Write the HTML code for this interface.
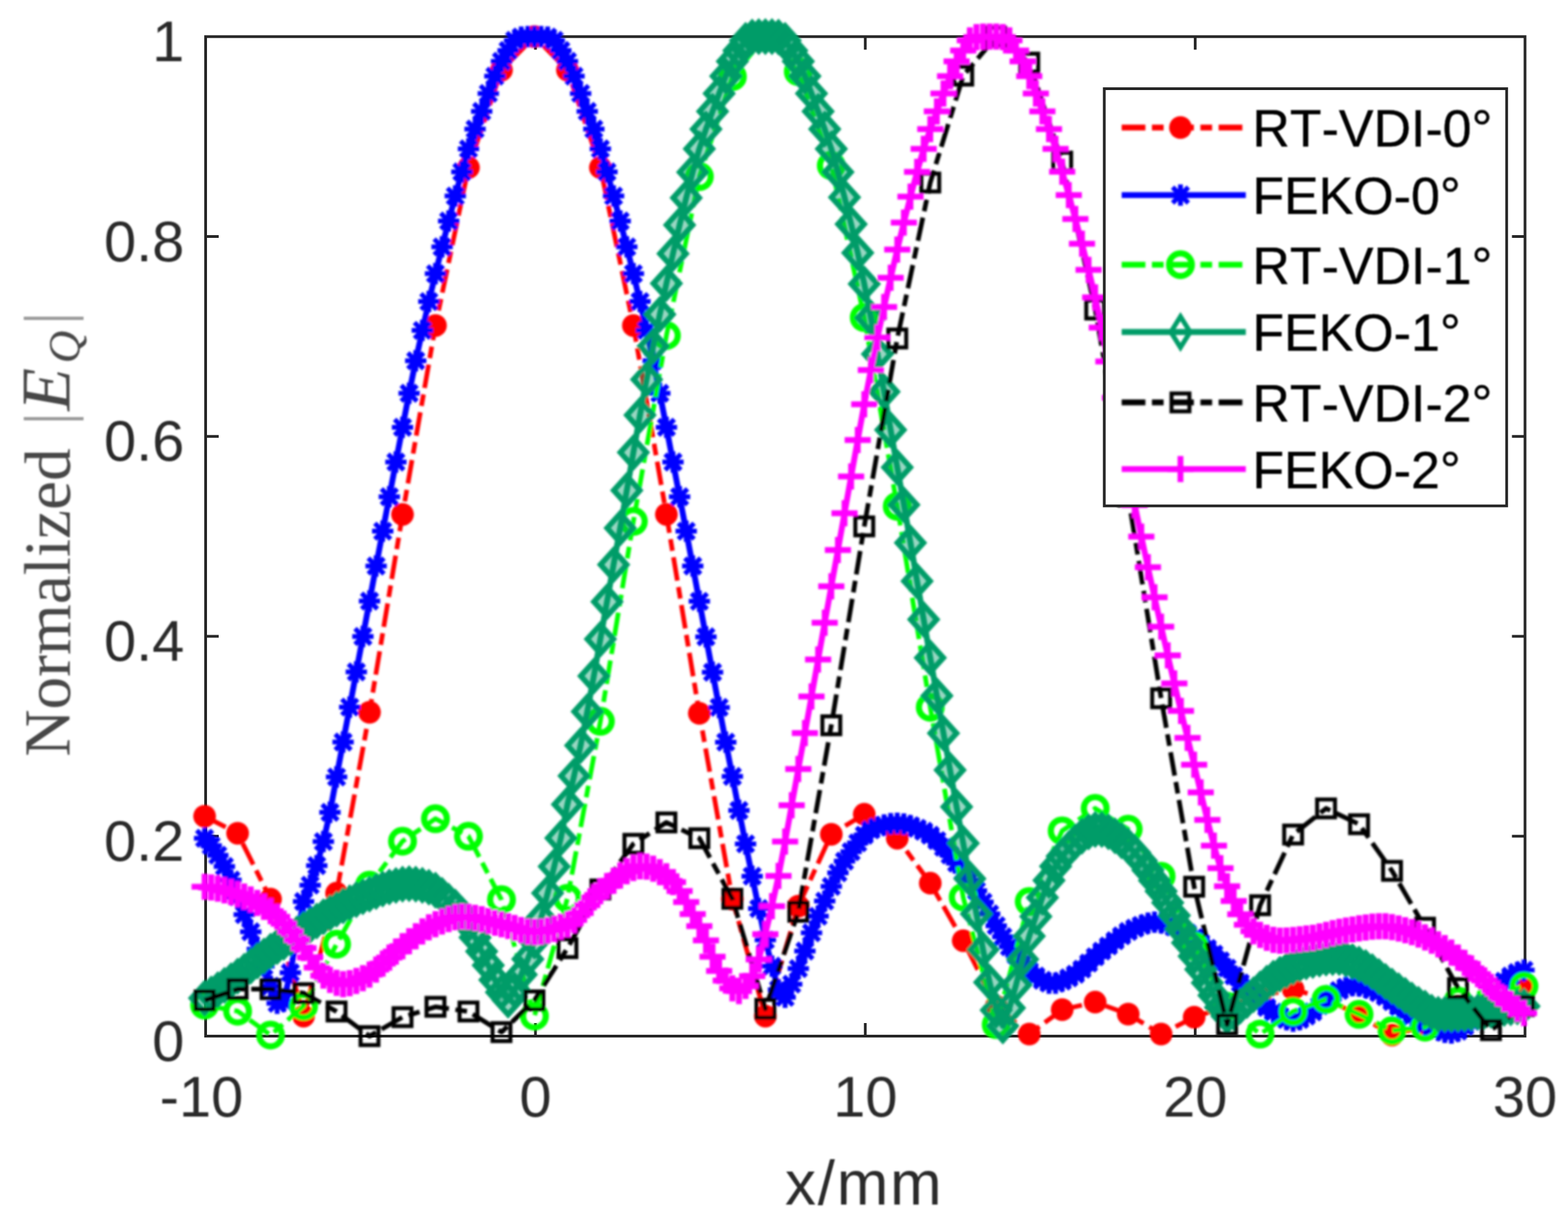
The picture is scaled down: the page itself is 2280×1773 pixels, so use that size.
<!DOCTYPE html>
<html lang="en"><head><meta charset="utf-8"><title>Normalized |EQ| versus x/mm</title>
<style>html,body{margin:0;padding:0;background:#fff}body{width:2280px;height:1773px;overflow:hidden}svg{display:block}text{font-family:"Liberation Sans",sans-serif;font-kerning:none}.ser{font-family:"Liberation Serif",serif}</style></head><body>
<svg width="2280" height="1773" viewBox="0 0 2280 1773" role="img" aria-label="Normalized |E_Q| versus x/mm for RT-VDI and FEKO at 0, 1 and 2 degrees">
<defs>
<filter id="soft" filterUnits="userSpaceOnUse" x="0" y="0" width="2280" height="1773"><feGaussianBlur stdDeviation="1.5"/></filter>
<filter id="softt" filterUnits="userSpaceOnUse" x="0" y="0" width="2280" height="1773"><feGaussianBlur stdDeviation="0.9"/></filter>
<marker id="mRed" markerUnits="userSpaceOnUse" markerWidth="80" markerHeight="80" refX="0" refY="0" viewBox="-40 -40 80 80" orient="0" overflow="visible"><circle r="16.5" fill="#ff0000"/></marker>
<marker id="mBlue" markerUnits="userSpaceOnUse" markerWidth="80" markerHeight="80" refX="0" refY="0" viewBox="-40 -40 80 80" orient="0" overflow="visible"><path d="M0,-15.5 V15.5 M-15.5,0 H15.5 M-11.5,-11.5 L11.5,11.5 M-11.5,11.5 L11.5,-11.5" stroke="#0000ff" stroke-width="7" fill="none"/></marker>
<marker id="mGreen" markerUnits="userSpaceOnUse" markerWidth="80" markerHeight="80" refX="0" refY="0" viewBox="-40 -40 80 80" orient="0" overflow="visible"><circle r="16.5" fill="none" stroke="#00ff00" stroke-width="9"/></marker>
<marker id="mTeal" markerUnits="userSpaceOnUse" markerWidth="80" markerHeight="80" refX="0" refY="0" viewBox="-40 -40 80 80" orient="0" overflow="visible"><path d="M0,-21 L19,0 L0,21 L-19,0 Z" fill="#069c68" fill-opacity="0.4" stroke="#069c68" stroke-width="8" stroke-linejoin="miter"/></marker>
<marker id="mTealL" markerUnits="userSpaceOnUse" markerWidth="80" markerHeight="80" refX="0" refY="0" viewBox="-40 -40 80 80" orient="0" overflow="visible"><path d="M0,-22.5 L14,0 L0,22.5 L-14,0 Z" fill="none" stroke="#069c68" stroke-width="7" stroke-linejoin="miter"/></marker>
<marker id="mBlack" markerUnits="userSpaceOnUse" markerWidth="80" markerHeight="80" refX="0" refY="0" viewBox="-40 -40 80 80" orient="0" overflow="visible"><rect x="-13" y="-13" width="26" height="26" fill="none" stroke="#000000" stroke-width="5.8"/></marker>
<marker id="mMag" markerUnits="userSpaceOnUse" markerWidth="80" markerHeight="80" refX="0" refY="0" viewBox="-40 -40 80 80" orient="0" overflow="visible"><path d="M0,-19 V19 M-19,0 H19" stroke="#ff00ff" stroke-width="8.5" fill="none"/></marker>
</defs>
<rect width="2280" height="1773" fill="#fff"/>
<g stroke="#262626" stroke-width="4" fill="none" stroke-linecap="butt">
<rect x="299.0" y="53.3" width="1918.5" height="1453.7"/>
<path d="M778.6,1507.0 v-19 M778.6,53.3 v19 M1258.2,1507.0 v-19 M1258.2,53.3 v19 M1737.9,1507.0 v-19 M1737.9,53.3 v19 M299.0,1216.3 h19 M2217.5,1216.3 h-19 M299.0,925.5 h19 M2217.5,925.5 h-19 M299.0,634.8 h19 M2217.5,634.8 h-19 M299.0,344.0 h19 M2217.5,344.0 h-19"/>
</g>
<g id="series" filter="url(#soft)" transform="translate(-1.5,0)">
<polyline points="299.0,1187.2 347.0,1211.9 394.9,1307.8 442.9,1477.9 490.9,1299.1 538.8,1036.0 586.8,748.2 634.7,473.4 682.7,243.7 730.7,101.9 778.6,53.3 826.6,101.9 874.5,243.7 922.5,473.4 970.5,748.2 1018.4,1037.5 1066.4,1307.8 1114.4,1477.9 1162.3,1318.0 1210.3,1213.4 1258.2,1184.3 1306.2,1219.2 1354.2,1284.6 1402.1,1368.2 1450.1,1463.4 1498.1,1504.1 1546.0,1468.5 1594.0,1457.6 1642.0,1475.0 1689.9,1504.1 1737.9,1479.4 1785.8,1463.4 1833.8,1448.9 1881.8,1438.7 1929.7,1453.2 1977.7,1476.5 2025.6,1505.5 2073.6,1492.5 2121.6,1463.4 2169.5,1456.1 2217.5,1438.7" fill="none" stroke="#ff0000" stroke-width="6.8" stroke-linejoin="round" stroke-dasharray="34.5,9.5,17,9.5"/>
<polyline points="299.0,1187.2 347.0,1211.9 394.9,1307.8 442.9,1477.9 490.9,1299.1 538.8,1036.0 586.8,748.2 634.7,473.4 682.7,243.7 730.7,101.9 778.6,53.3 826.6,101.9 874.5,243.7 922.5,473.4 970.5,748.2 1018.4,1037.5 1066.4,1307.8 1114.4,1477.9 1162.3,1318.0 1210.3,1213.4 1258.2,1184.3 1306.2,1219.2 1354.2,1284.6 1402.1,1368.2 1450.1,1463.4 1498.1,1504.1 1546.0,1468.5 1594.0,1457.6 1642.0,1475.0 1689.9,1504.1 1737.9,1479.4 1785.8,1463.4 1833.8,1448.9 1881.8,1438.7 1929.7,1453.2 1977.7,1476.5 2025.6,1505.5 2073.6,1492.5 2121.6,1463.4 2169.5,1456.1 2217.5,1438.7" fill="none" stroke="none" marker-start="url(#mRed)" marker-mid="url(#mRed)" marker-end="url(#mRed)"/>
<polyline points="299.0,1219.2 308.6,1230.0 318.2,1243.9 327.8,1260.2 337.4,1280.0 347.0,1304.4 356.6,1330.3 366.1,1355.3 375.7,1380.5 385.3,1405.2 394.9,1434.4 404.5,1459.3 414.1,1456.3 423.7,1414.8 433.3,1361.8 442.9,1311.3 452.5,1287.4 462.1,1259.0 471.7,1224.1 481.3,1181.5 490.9,1130.1 500.4,1079.2 510.0,1028.4 519.6,977.2 529.2,925.7 538.8,874.3 548.4,823.2 558.0,772.6 567.6,722.5 577.2,672.0 586.8,621.5 596.4,572.0 606.0,524.7 615.6,480.6 625.1,438.6 634.7,398.1 644.3,359.1 653.9,321.5 663.5,285.1 673.1,250.0 682.7,216.5 692.3,187.8 701.9,162.0 711.5,135.9 721.1,110.8 730.7,89.3 740.3,73.5 749.8,58.7 759.4,53.9 769.0,53.3 778.6,53.3 788.2,53.3 797.8,53.9 807.4,58.7 817.0,73.5 826.6,89.3 836.2,110.8 845.8,135.9 855.4,162.0 865.0,187.8 874.5,216.5 884.1,250.0 893.7,285.1 903.3,321.5 912.9,359.1 922.5,398.1 932.1,438.6 941.7,480.6 951.3,524.7 960.9,572.0 970.5,621.5 980.1,672.0 989.7,722.5 999.3,772.6 1008.8,823.3 1018.4,874.6 1028.0,926.2 1037.6,977.7 1047.2,1028.9 1056.8,1079.4 1066.4,1129.2 1076.0,1178.7 1085.6,1227.4 1095.2,1274.4 1104.8,1321.5 1114.4,1367.1 1124.0,1405.2 1133.5,1439.4 1143.1,1450.6 1152.7,1431.4 1162.3,1408.7 1171.9,1383.3 1181.5,1356.8 1191.1,1332.6 1200.7,1310.6 1210.3,1289.2 1219.9,1269.5 1229.5,1252.5 1239.1,1238.7 1248.7,1225.9 1258.2,1214.8 1267.8,1207.0 1277.4,1203.0 1287.0,1200.1 1296.6,1198.1 1306.2,1197.4 1315.8,1198.4 1325.4,1201.0 1335.0,1204.7 1344.6,1209.0 1354.2,1214.7 1363.8,1222.6 1373.4,1232.4 1383.0,1243.5 1392.5,1255.2 1402.1,1267.1 1411.7,1280.3 1421.3,1295.5 1430.9,1312.1 1440.5,1329.3 1450.1,1346.4 1459.7,1362.5 1469.3,1377.0 1478.9,1389.5 1488.5,1401.5 1498.1,1412.0 1507.7,1419.8 1517.2,1425.7 1526.8,1429.9 1536.4,1430.1 1546.0,1427.0 1555.6,1422.3 1565.2,1417.0 1574.8,1409.6 1584.4,1400.7 1594.0,1391.6 1603.6,1383.4 1613.2,1375.9 1622.8,1368.3 1632.4,1361.1 1642.0,1354.8 1651.5,1350.0 1661.1,1346.0 1670.7,1342.7 1680.3,1341.3 1689.9,1342.3 1699.5,1344.8 1709.1,1348.2 1718.7,1352.0 1728.3,1357.3 1737.9,1363.9 1747.5,1371.4 1757.1,1379.4 1766.7,1387.7 1776.2,1397.5 1785.8,1408.3 1795.4,1419.2 1805.0,1429.6 1814.6,1438.9 1824.2,1448.1 1833.8,1457.0 1843.4,1465.2 1853.0,1472.2 1862.6,1477.8 1872.2,1482.9 1881.8,1485.2 1891.4,1482.9 1900.9,1477.8 1910.5,1471.8 1920.1,1462.9 1929.7,1453.3 1939.3,1445.9 1948.9,1440.6 1958.5,1435.9 1968.1,1433.4 1977.7,1433.9 1987.3,1436.4 1996.9,1439.8 2006.5,1443.7 2016.1,1449.6 2025.6,1456.8 2035.2,1464.5 2044.8,1471.8 2054.4,1478.1 2064.0,1484.3 2073.6,1490.2 2083.2,1495.0 2092.8,1498.4 2102.4,1501.4 2112.0,1502.6 2121.6,1499.7 2131.2,1493.1 2140.8,1485.5 2150.4,1475.1 2159.9,1463.4 2169.5,1450.0 2179.1,1437.2 2188.7,1427.3 2198.3,1419.8 2207.9,1414.5 2217.5,1411.1" fill="none" stroke="#0000ff" stroke-width="8.6" stroke-linejoin="round"/>
<polyline points="299.0,1219.2 308.6,1230.0 318.2,1243.9 327.8,1260.2 337.4,1280.0 347.0,1304.4 356.6,1330.3 366.1,1355.3 375.7,1380.5 385.3,1405.2 394.9,1434.4 404.5,1459.3 414.1,1456.3 423.7,1414.8 433.3,1361.8 442.9,1311.3 452.5,1287.4 462.1,1259.0 471.7,1224.1 481.3,1181.5 490.9,1130.1 500.4,1079.2 510.0,1028.4 519.6,977.2 529.2,925.7 538.8,874.3 548.4,823.2 558.0,772.6 567.6,722.5 577.2,672.0 586.8,621.5 596.4,572.0 606.0,524.7 615.6,480.6 625.1,438.6 634.7,398.1 644.3,359.1 653.9,321.5 663.5,285.1 673.1,250.0 682.7,216.5 692.3,187.8 701.9,162.0 711.5,135.9 721.1,110.8 730.7,89.3 740.3,73.5 749.8,58.7 759.4,53.9 769.0,53.3 778.6,53.3 788.2,53.3 797.8,53.9 807.4,58.7 817.0,73.5 826.6,89.3 836.2,110.8 845.8,135.9 855.4,162.0 865.0,187.8 874.5,216.5 884.1,250.0 893.7,285.1 903.3,321.5 912.9,359.1 922.5,398.1 932.1,438.6 941.7,480.6 951.3,524.7 960.9,572.0 970.5,621.5 980.1,672.0 989.7,722.5 999.3,772.6 1008.8,823.3 1018.4,874.6 1028.0,926.2 1037.6,977.7 1047.2,1028.9 1056.8,1079.4 1066.4,1129.2 1076.0,1178.7 1085.6,1227.4 1095.2,1274.4 1104.8,1321.5 1114.4,1367.1 1124.0,1405.2 1133.5,1439.4 1143.1,1450.6 1152.7,1431.4 1162.3,1408.7 1171.9,1383.3 1181.5,1356.8 1191.1,1332.6 1200.7,1310.6 1210.3,1289.2 1219.9,1269.5 1229.5,1252.5 1239.1,1238.7 1248.7,1225.9 1258.2,1214.8 1267.8,1207.0 1277.4,1203.0 1287.0,1200.1 1296.6,1198.1 1306.2,1197.4 1315.8,1198.4 1325.4,1201.0 1335.0,1204.7 1344.6,1209.0 1354.2,1214.7 1363.8,1222.6 1373.4,1232.4 1383.0,1243.5 1392.5,1255.2 1402.1,1267.1 1411.7,1280.3 1421.3,1295.5 1430.9,1312.1 1440.5,1329.3 1450.1,1346.4 1459.7,1362.5 1469.3,1377.0 1478.9,1389.5 1488.5,1401.5 1498.1,1412.0 1507.7,1419.8 1517.2,1425.7 1526.8,1429.9 1536.4,1430.1 1546.0,1427.0 1555.6,1422.3 1565.2,1417.0 1574.8,1409.6 1584.4,1400.7 1594.0,1391.6 1603.6,1383.4 1613.2,1375.9 1622.8,1368.3 1632.4,1361.1 1642.0,1354.8 1651.5,1350.0 1661.1,1346.0 1670.7,1342.7 1680.3,1341.3 1689.9,1342.3 1699.5,1344.8 1709.1,1348.2 1718.7,1352.0 1728.3,1357.3 1737.9,1363.9 1747.5,1371.4 1757.1,1379.4 1766.7,1387.7 1776.2,1397.5 1785.8,1408.3 1795.4,1419.2 1805.0,1429.6 1814.6,1438.9 1824.2,1448.1 1833.8,1457.0 1843.4,1465.2 1853.0,1472.2 1862.6,1477.8 1872.2,1482.9 1881.8,1485.2 1891.4,1482.9 1900.9,1477.8 1910.5,1471.8 1920.1,1462.9 1929.7,1453.3 1939.3,1445.9 1948.9,1440.6 1958.5,1435.9 1968.1,1433.4 1977.7,1433.9 1987.3,1436.4 1996.9,1439.8 2006.5,1443.7 2016.1,1449.6 2025.6,1456.8 2035.2,1464.5 2044.8,1471.8 2054.4,1478.1 2064.0,1484.3 2073.6,1490.2 2083.2,1495.0 2092.8,1498.4 2102.4,1501.4 2112.0,1502.6 2121.6,1499.7 2131.2,1493.1 2140.8,1485.5 2150.4,1475.1 2159.9,1463.4 2169.5,1450.0 2179.1,1437.2 2188.7,1427.3 2198.3,1419.8 2207.9,1414.5 2217.5,1411.1" fill="none" stroke="none" marker-start="url(#mBlue)" marker-mid="url(#mBlue)" marker-end="url(#mBlue)"/>
<polyline points="299.0,1461.9 347.0,1470.7 394.9,1505.5 442.9,1463.4 490.9,1373.3 538.8,1287.5 586.8,1223.5 634.7,1190.8 682.7,1216.3 730.7,1308.6 778.6,1477.9 826.6,1306.4 874.5,1049.1 922.5,758.3 970.5,488.0 1018.4,256.8 1066.4,111.4 1114.4,53.3 1162.3,104.2 1210.3,240.8 1258.2,461.8 1306.2,736.5 1354.2,1028.7 1402.1,1304.9 1450.1,1490.3 1498.1,1311.3 1546.0,1208.4 1594.0,1175.8 1642.0,1206.1 1689.9,1274.4 1737.9,1376.2 1785.8,1463.4 1833.8,1504.1 1881.8,1471.2 1929.7,1453.5 1977.7,1475.3 2025.6,1499.0 2073.6,1493.9 2121.6,1456.1 2169.5,1448.9 2217.5,1434.3" fill="none" stroke="#00ff00" stroke-width="6.8" stroke-linejoin="round" stroke-dasharray="34.5,9.5,17,9.5"/>
<polyline points="299.0,1461.9 347.0,1470.7 394.9,1505.5 442.9,1463.4 490.9,1373.3 538.8,1287.5 586.8,1223.5 634.7,1190.8 682.7,1216.3 730.7,1308.6 778.6,1477.9 826.6,1306.4 874.5,1049.1 922.5,758.3 970.5,488.0 1018.4,256.8 1066.4,111.4 1114.4,53.3 1162.3,104.2 1210.3,240.8 1258.2,461.8 1306.2,736.5 1354.2,1028.7 1402.1,1304.9 1450.1,1490.3 1498.1,1311.3 1546.0,1208.4 1594.0,1175.8 1642.0,1206.1 1689.9,1274.4 1737.9,1376.2 1785.8,1463.4 1833.8,1504.1 1881.8,1471.2 1929.7,1453.5 1977.7,1475.3 2025.6,1499.0 2073.6,1493.9 2121.6,1456.1 2169.5,1448.9 2217.5,1434.3" fill="none" stroke="none" marker-start="url(#mGreen)" marker-mid="url(#mGreen)" marker-end="url(#mGreen)"/>
<polyline points="299.0,1451.8 308.6,1445.7 318.2,1439.5 327.8,1433.1 337.4,1426.5 347.0,1419.8 356.6,1412.7 366.1,1405.3 375.7,1397.8 385.3,1390.4 394.9,1383.4 404.5,1376.8 414.1,1370.5 423.7,1364.2 433.3,1358.1 442.9,1352.0 452.5,1345.9 462.1,1339.6 471.7,1333.5 481.3,1327.7 490.9,1322.4 500.4,1317.5 510.0,1312.9 519.6,1308.5 529.2,1304.4 538.8,1300.6 548.4,1296.8 558.0,1293.1 567.6,1290.1 577.2,1287.9 586.8,1286.0 596.4,1285.2 606.0,1286.0 615.6,1287.8 625.1,1290.4 634.7,1294.8 644.3,1302.1 653.9,1310.8 663.5,1319.3 673.1,1329.6 682.7,1344.5 692.3,1363.4 701.9,1383.7 711.5,1403.9 721.1,1425.2 730.7,1443.2 740.3,1454.7 749.8,1440.3 759.4,1417.5 769.0,1395.0 778.6,1368.9 788.2,1336.1 797.8,1299.1 807.4,1260.2 817.0,1218.9 826.6,1170.0 836.2,1128.6 845.8,1084.2 855.4,1035.0 865.0,983.2 874.5,929.6 884.1,875.3 893.7,821.3 903.3,768.0 912.9,713.3 922.5,658.1 932.1,603.8 941.7,551.9 951.3,503.6 960.9,457.3 970.5,412.3 980.1,368.9 989.7,327.3 999.3,287.8 1008.8,250.4 1018.4,216.4 1028.0,187.8 1037.6,162.0 1047.2,135.9 1056.8,110.8 1066.4,89.3 1076.0,73.5 1085.6,58.7 1095.2,53.9 1104.8,53.3 1114.4,53.3 1124.0,53.3 1133.5,53.9 1143.1,58.7 1152.7,73.5 1162.3,89.3 1171.9,110.8 1181.5,135.9 1191.1,162.0 1200.7,187.8 1210.3,216.5 1219.9,250.2 1229.5,286.9 1239.1,326.0 1248.7,367.8 1258.2,412.9 1267.8,462.3 1277.4,515.0 1287.0,569.8 1296.6,625.2 1306.2,679.8 1315.8,734.2 1325.4,789.5 1335.0,845.2 1344.6,901.0 1354.2,956.7 1363.8,1012.0 1373.4,1066.4 1383.0,1120.1 1392.5,1173.6 1402.1,1226.4 1411.7,1278.1 1421.3,1329.2 1430.9,1381.2 1440.5,1428.8 1450.1,1469.2 1459.7,1492.2 1469.3,1466.1 1478.9,1432.4 1488.5,1395.3 1498.1,1361.6 1507.7,1333.0 1517.2,1305.4 1526.8,1280.5 1536.4,1259.9 1546.0,1245.3 1555.6,1234.5 1565.2,1224.6 1574.8,1216.2 1584.4,1210.0 1594.0,1206.5 1603.6,1206.6 1613.2,1209.9 1622.8,1215.8 1632.4,1223.0 1642.0,1230.8 1651.5,1240.0 1661.1,1251.9 1670.7,1265.7 1680.3,1280.7 1689.9,1296.2 1699.5,1312.9 1709.1,1331.6 1718.7,1351.3 1728.3,1371.3 1737.9,1390.7 1747.5,1410.0 1757.1,1429.4 1766.7,1447.7 1776.2,1465.3 1785.8,1477.9 1795.4,1472.5 1805.0,1463.4 1814.6,1455.4 1824.2,1446.8 1833.8,1438.1 1843.4,1429.9 1853.0,1422.8 1862.6,1417.0 1872.2,1411.6 1881.8,1406.6 1891.4,1402.4 1900.9,1399.1 1910.5,1397.0 1920.1,1395.1 1929.7,1393.6 1939.3,1392.7 1948.9,1392.9 1958.5,1395.0 1968.1,1398.5 1977.7,1402.3 1987.3,1407.1 1996.9,1413.3 2006.5,1420.3 2016.1,1427.5 2025.6,1434.3 2035.2,1440.9 2044.8,1447.7 2054.4,1454.4 2064.0,1460.7 2073.6,1466.3 2083.2,1472.1 2092.8,1475.3 2102.4,1475.3 2112.0,1475.2 2121.6,1475.0 2131.2,1474.5 2140.8,1473.4 2150.4,1472.0 2159.9,1470.5 2169.5,1469.2 2179.1,1468.0 2188.7,1466.9 2198.3,1465.7 2207.9,1464.6 2217.5,1463.4" fill="none" stroke="#069c68" stroke-width="8.6" stroke-linejoin="round"/>
<polyline points="299.0,1451.8 308.6,1445.7 318.2,1439.5 327.8,1433.1 337.4,1426.5 347.0,1419.8 356.6,1412.7 366.1,1405.3 375.7,1397.8 385.3,1390.4 394.9,1383.4 404.5,1376.8 414.1,1370.5 423.7,1364.2 433.3,1358.1 442.9,1352.0 452.5,1345.9 462.1,1339.6 471.7,1333.5 481.3,1327.7 490.9,1322.4 500.4,1317.5 510.0,1312.9 519.6,1308.5 529.2,1304.4 538.8,1300.6 548.4,1296.8 558.0,1293.1 567.6,1290.1 577.2,1287.9 586.8,1286.0 596.4,1285.2 606.0,1286.0 615.6,1287.8 625.1,1290.4 634.7,1294.8 644.3,1302.1 653.9,1310.8 663.5,1319.3 673.1,1329.6 682.7,1344.5 692.3,1363.4 701.9,1383.7 711.5,1403.9 721.1,1425.2 730.7,1443.2 740.3,1454.7 749.8,1440.3 759.4,1417.5 769.0,1395.0 778.6,1368.9 788.2,1336.1 797.8,1299.1 807.4,1260.2 817.0,1218.9 826.6,1170.0 836.2,1128.6 845.8,1084.2 855.4,1035.0 865.0,983.2 874.5,929.6 884.1,875.3 893.7,821.3 903.3,768.0 912.9,713.3 922.5,658.1 932.1,603.8 941.7,551.9 951.3,503.6 960.9,457.3 970.5,412.3 980.1,368.9 989.7,327.3 999.3,287.8 1008.8,250.4 1018.4,216.4 1028.0,187.8 1037.6,162.0 1047.2,135.9 1056.8,110.8 1066.4,89.3 1076.0,73.5 1085.6,58.7 1095.2,53.9 1104.8,53.3 1114.4,53.3 1124.0,53.3 1133.5,53.9 1143.1,58.7 1152.7,73.5 1162.3,89.3 1171.9,110.8 1181.5,135.9 1191.1,162.0 1200.7,187.8 1210.3,216.5 1219.9,250.2 1229.5,286.9 1239.1,326.0 1248.7,367.8 1258.2,412.9 1267.8,462.3 1277.4,515.0 1287.0,569.8 1296.6,625.2 1306.2,679.8 1315.8,734.2 1325.4,789.5 1335.0,845.2 1344.6,901.0 1354.2,956.7 1363.8,1012.0 1373.4,1066.4 1383.0,1120.1 1392.5,1173.6 1402.1,1226.4 1411.7,1278.1 1421.3,1329.2 1430.9,1381.2 1440.5,1428.8 1450.1,1469.2 1459.7,1492.2 1469.3,1466.1 1478.9,1432.4 1488.5,1395.3 1498.1,1361.6 1507.7,1333.0 1517.2,1305.4 1526.8,1280.5 1536.4,1259.9 1546.0,1245.3 1555.6,1234.5 1565.2,1224.6 1574.8,1216.2 1584.4,1210.0 1594.0,1206.5 1603.6,1206.6 1613.2,1209.9 1622.8,1215.8 1632.4,1223.0 1642.0,1230.8 1651.5,1240.0 1661.1,1251.9 1670.7,1265.7 1680.3,1280.7 1689.9,1296.2 1699.5,1312.9 1709.1,1331.6 1718.7,1351.3 1728.3,1371.3 1737.9,1390.7 1747.5,1410.0 1757.1,1429.4 1766.7,1447.7 1776.2,1465.3 1785.8,1477.9 1795.4,1472.5 1805.0,1463.4 1814.6,1455.4 1824.2,1446.8 1833.8,1438.1 1843.4,1429.9 1853.0,1422.8 1862.6,1417.0 1872.2,1411.6 1881.8,1406.6 1891.4,1402.4 1900.9,1399.1 1910.5,1397.0 1920.1,1395.1 1929.7,1393.6 1939.3,1392.7 1948.9,1392.9 1958.5,1395.0 1968.1,1398.5 1977.7,1402.3 1987.3,1407.1 1996.9,1413.3 2006.5,1420.3 2016.1,1427.5 2025.6,1434.3 2035.2,1440.9 2044.8,1447.7 2054.4,1454.4 2064.0,1460.7 2073.6,1466.3 2083.2,1472.1 2092.8,1475.3 2102.4,1475.3 2112.0,1475.2 2121.6,1475.0 2131.2,1474.5 2140.8,1473.4 2150.4,1472.0 2159.9,1470.5 2169.5,1469.2 2179.1,1468.0 2188.7,1466.9 2198.3,1465.7 2207.9,1464.6 2217.5,1463.4" fill="none" stroke="none" marker-start="url(#mTeal)" marker-mid="url(#mTeal)" marker-end="url(#mTeal)"/>
<polyline points="299.0,1455.0 347.0,1438.7 394.9,1438.7 442.9,1444.5 490.9,1471.2 538.8,1507.0 586.8,1479.4 634.7,1464.4 682.7,1471.2 730.7,1501.2 778.6,1455.0 826.6,1379.1 874.5,1293.7 922.5,1227.3 970.5,1196.2 1018.4,1219.2 1066.4,1307.3 1114.4,1467.2 1162.3,1326.2 1210.3,1054.9 1258.2,765.6 1306.2,492.3 1354.2,265.5 1402.1,110.0 1450.1,53.3 1498.1,91.1 1546.0,235.0 1594.0,450.2 1642.0,722.0 1689.9,1015.6 1737.9,1289.7 1785.8,1490.1 1833.8,1316.6 1881.8,1213.8 1929.7,1175.8 1977.7,1198.8 2025.6,1266.6 2073.6,1349.3 2121.6,1437.2 2169.5,1498.3 2217.5,1463.4" fill="none" stroke="#000000" stroke-width="6.8" stroke-linejoin="round" stroke-dasharray="34.5,9.5,17,9.5"/>
<polyline points="299.0,1455.0 347.0,1438.7 394.9,1438.7 442.9,1444.5 490.9,1471.2 538.8,1507.0 586.8,1479.4 634.7,1464.4 682.7,1471.2 730.7,1501.2 778.6,1455.0 826.6,1379.1 874.5,1293.7 922.5,1227.3 970.5,1196.2 1018.4,1219.2 1066.4,1307.3 1114.4,1467.2 1162.3,1326.2 1210.3,1054.9 1258.2,765.6 1306.2,492.3 1354.2,265.5 1402.1,110.0 1450.1,53.3 1498.1,91.1 1546.0,235.0 1594.0,450.2 1642.0,722.0 1689.9,1015.6 1737.9,1289.7 1785.8,1490.1 1833.8,1316.6 1881.8,1213.8 1929.7,1175.8 1977.7,1198.8 2025.6,1266.6 2073.6,1349.3 2121.6,1437.2 2169.5,1498.3 2217.5,1463.4" fill="none" stroke="none" marker-start="url(#mBlack)" marker-mid="url(#mBlack)" marker-end="url(#mBlack)"/>
<polyline points="299.0,1289.7 308.6,1290.8 318.2,1292.6 327.8,1294.9 337.4,1297.6 347.0,1300.6 356.6,1304.0 366.1,1308.2 375.7,1313.2 385.3,1318.9 394.9,1325.3 404.5,1333.4 414.1,1343.5 423.7,1355.0 433.3,1367.1 442.9,1379.1 452.5,1392.6 462.1,1407.2 471.7,1419.0 481.3,1425.3 490.9,1429.6 500.4,1431.4 510.0,1430.0 519.6,1426.7 529.2,1422.7 538.8,1417.4 548.4,1410.2 558.0,1401.6 567.6,1392.7 577.2,1383.9 586.8,1376.2 596.4,1369.0 606.0,1361.7 615.6,1354.8 625.1,1348.8 634.7,1344.2 644.3,1340.3 653.9,1336.7 663.5,1334.1 673.1,1333.0 682.7,1333.5 692.3,1334.9 701.9,1337.0 711.5,1339.4 721.1,1341.9 730.7,1344.2 740.3,1346.7 749.8,1349.8 759.4,1352.7 769.0,1354.9 778.6,1355.8 788.2,1355.2 797.8,1353.5 807.4,1351.0 817.0,1347.8 826.6,1344.2 836.2,1338.0 845.8,1328.1 855.4,1316.5 865.0,1305.2 874.5,1296.2 884.1,1288.7 893.7,1281.0 903.3,1273.6 912.9,1267.3 922.5,1262.6 932.1,1260.1 941.7,1260.4 951.3,1263.5 960.9,1268.5 970.5,1274.4 980.1,1283.1 989.7,1296.1 999.3,1312.0 1008.8,1329.5 1018.4,1347.1 1028.0,1367.8 1037.6,1391.4 1047.2,1412.2 1056.8,1426.2 1066.4,1437.5 1076.0,1441.4 1085.6,1433.9 1095.2,1419.8 1104.8,1395.5 1114.4,1358.8 1124.0,1318.0 1133.5,1274.0 1143.1,1224.1 1152.7,1171.2 1162.3,1118.4 1171.9,1066.3 1181.5,1013.1 1191.1,959.3 1200.7,905.7 1210.3,852.8 1219.9,800.0 1229.5,746.4 1239.1,692.9 1248.7,639.9 1258.2,588.1 1267.8,538.3 1277.4,491.0 1287.0,446.6 1296.6,404.0 1306.2,363.1 1315.8,323.8 1325.4,286.1 1335.0,250.1 1344.6,216.5 1354.2,187.8 1363.8,162.0 1373.4,135.9 1383.0,110.8 1392.5,89.3 1402.1,73.5 1411.7,58.7 1421.3,53.9 1430.9,53.3 1440.5,53.3 1450.1,53.3 1459.7,53.9 1469.3,58.7 1478.9,73.5 1488.5,89.3 1498.1,110.8 1507.7,135.9 1517.2,162.0 1526.8,187.8 1536.4,216.5 1546.0,249.7 1555.6,283.7 1565.2,318.5 1574.8,354.5 1584.4,392.4 1594.0,432.6 1603.6,476.6 1613.2,525.8 1622.8,578.4 1632.4,632.1 1642.0,684.9 1651.5,734.5 1661.1,780.4 1670.7,825.1 1680.3,868.8 1689.9,911.5 1699.5,953.3 1709.1,994.1 1718.7,1034.1 1728.3,1073.3 1737.9,1112.2 1747.5,1152.5 1757.1,1192.5 1766.7,1230.0 1776.2,1262.8 1785.8,1288.9 1795.4,1310.5 1805.0,1329.8 1814.6,1345.1 1824.2,1354.4 1833.8,1359.7 1843.4,1364.1 1853.0,1367.1 1862.6,1368.2 1872.2,1367.9 1881.8,1367.2 1891.4,1366.2 1900.9,1365.1 1910.5,1363.9 1920.1,1362.0 1929.7,1359.7 1939.3,1357.3 1948.9,1355.2 1958.5,1353.6 1968.1,1351.9 1977.7,1350.3 1987.3,1348.9 1996.9,1347.8 2006.5,1347.2 2016.1,1347.3 2025.6,1348.5 2035.2,1350.6 2044.8,1353.1 2054.4,1355.8 2064.0,1359.2 2073.6,1363.4 2083.2,1368.2 2092.8,1373.5 2102.4,1379.0 2112.0,1385.5 2121.6,1392.7 2131.2,1400.4 2140.8,1408.5 2150.4,1416.7 2159.9,1426.0 2169.5,1435.6 2179.1,1444.7 2188.7,1452.8 2198.3,1460.2 2207.9,1467.2 2217.5,1473.6" fill="none" stroke="#ff00ff" stroke-width="8.6" stroke-linejoin="round"/>
<polyline points="299.0,1289.7 308.6,1290.8 318.2,1292.6 327.8,1294.9 337.4,1297.6 347.0,1300.6 356.6,1304.0 366.1,1308.2 375.7,1313.2 385.3,1318.9 394.9,1325.3 404.5,1333.4 414.1,1343.5 423.7,1355.0 433.3,1367.1 442.9,1379.1 452.5,1392.6 462.1,1407.2 471.7,1419.0 481.3,1425.3 490.9,1429.6 500.4,1431.4 510.0,1430.0 519.6,1426.7 529.2,1422.7 538.8,1417.4 548.4,1410.2 558.0,1401.6 567.6,1392.7 577.2,1383.9 586.8,1376.2 596.4,1369.0 606.0,1361.7 615.6,1354.8 625.1,1348.8 634.7,1344.2 644.3,1340.3 653.9,1336.7 663.5,1334.1 673.1,1333.0 682.7,1333.5 692.3,1334.9 701.9,1337.0 711.5,1339.4 721.1,1341.9 730.7,1344.2 740.3,1346.7 749.8,1349.8 759.4,1352.7 769.0,1354.9 778.6,1355.8 788.2,1355.2 797.8,1353.5 807.4,1351.0 817.0,1347.8 826.6,1344.2 836.2,1338.0 845.8,1328.1 855.4,1316.5 865.0,1305.2 874.5,1296.2 884.1,1288.7 893.7,1281.0 903.3,1273.6 912.9,1267.3 922.5,1262.6 932.1,1260.1 941.7,1260.4 951.3,1263.5 960.9,1268.5 970.5,1274.4 980.1,1283.1 989.7,1296.1 999.3,1312.0 1008.8,1329.5 1018.4,1347.1 1028.0,1367.8 1037.6,1391.4 1047.2,1412.2 1056.8,1426.2 1066.4,1437.5 1076.0,1441.4 1085.6,1433.9 1095.2,1419.8 1104.8,1395.5 1114.4,1358.8 1124.0,1318.0 1133.5,1274.0 1143.1,1224.1 1152.7,1171.2 1162.3,1118.4 1171.9,1066.3 1181.5,1013.1 1191.1,959.3 1200.7,905.7 1210.3,852.8 1219.9,800.0 1229.5,746.4 1239.1,692.9 1248.7,639.9 1258.2,588.1 1267.8,538.3 1277.4,491.0 1287.0,446.6 1296.6,404.0 1306.2,363.1 1315.8,323.8 1325.4,286.1 1335.0,250.1 1344.6,216.5 1354.2,187.8 1363.8,162.0 1373.4,135.9 1383.0,110.8 1392.5,89.3 1402.1,73.5 1411.7,58.7 1421.3,53.9 1430.9,53.3 1440.5,53.3 1450.1,53.3 1459.7,53.9 1469.3,58.7 1478.9,73.5 1488.5,89.3 1498.1,110.8 1507.7,135.9 1517.2,162.0 1526.8,187.8 1536.4,216.5 1546.0,249.7 1555.6,283.7 1565.2,318.5 1574.8,354.5 1584.4,392.4 1594.0,432.6 1603.6,476.6 1613.2,525.8 1622.8,578.4 1632.4,632.1 1642.0,684.9 1651.5,734.5 1661.1,780.4 1670.7,825.1 1680.3,868.8 1689.9,911.5 1699.5,953.3 1709.1,994.1 1718.7,1034.1 1728.3,1073.3 1737.9,1112.2 1747.5,1152.5 1757.1,1192.5 1766.7,1230.0 1776.2,1262.8 1785.8,1288.9 1795.4,1310.5 1805.0,1329.8 1814.6,1345.1 1824.2,1354.4 1833.8,1359.7 1843.4,1364.1 1853.0,1367.1 1862.6,1368.2 1872.2,1367.9 1881.8,1367.2 1891.4,1366.2 1900.9,1365.1 1910.5,1363.9 1920.1,1362.0 1929.7,1359.7 1939.3,1357.3 1948.9,1355.2 1958.5,1353.6 1968.1,1351.9 1977.7,1350.3 1987.3,1348.9 1996.9,1347.8 2006.5,1347.2 2016.1,1347.3 2025.6,1348.5 2035.2,1350.6 2044.8,1353.1 2054.4,1355.8 2064.0,1359.2 2073.6,1363.4 2083.2,1368.2 2092.8,1373.5 2102.4,1379.0 2112.0,1385.5 2121.6,1392.7 2131.2,1400.4 2140.8,1408.5 2150.4,1416.7 2159.9,1426.0 2169.5,1435.6 2179.1,1444.7 2188.7,1452.8 2198.3,1460.2 2207.9,1467.2 2217.5,1473.6" fill="none" stroke="none" marker-start="url(#mMag)" marker-mid="url(#mMag)" marker-end="url(#mMag)"/>
</g>
<rect x="1605.7" y="129.0" width="585.1" height="606.8" fill="#fff" stroke="#262626" stroke-width="4"/>
<g filter="url(#soft)">
<line x1="1631.0" y1="185.5" x2="1808.0" y2="185.5" stroke="#ff0000" stroke-width="8.6" stroke-dasharray="34.5,9.5,17,9.5"/>
<polyline points="1716.5,185.5 1717.0,185.5" fill="none" stroke="none" marker-start="url(#mRed)"/>
<line x1="1631.0" y1="283.8" x2="1811.5" y2="283.8" stroke="#0000ff" stroke-width="8.6"/>
<polyline points="1716.5,283.8 1717.0,283.8" fill="none" stroke="none" marker-start="url(#mBlue)"/>
<line x1="1631.0" y1="385.0" x2="1808.0" y2="385.0" stroke="#00ff00" stroke-width="8.6" stroke-dasharray="34.5,9.5,17,9.5"/>
<polyline points="1716.5,385.0 1717.0,385.0" fill="none" stroke="none" marker-start="url(#mGreen)"/>
<line x1="1631.0" y1="482.9" x2="1811.5" y2="482.9" stroke="#069c68" stroke-width="8.6"/>
<polyline points="1716.5,482.9 1717.0,482.9" fill="none" stroke="none" marker-start="url(#mTealL)"/>
<line x1="1631.0" y1="585.3" x2="1808.0" y2="585.3" stroke="#000000" stroke-width="8.6" stroke-dasharray="34.5,9.5,17,9.5"/>
<polyline points="1716.5,585.3 1717.0,585.3" fill="none" stroke="none" marker-start="url(#mBlack)"/>
<line x1="1631.0" y1="682.3" x2="1811.5" y2="682.3" stroke="#ff00ff" stroke-width="8.6"/>
<polyline points="1716.5,682.3 1717.0,682.3" fill="none" stroke="none" marker-start="url(#mMag)"/>
</g>
<g filter="url(#softt)">
<text x="1821" y="213.0" font-size="75.5" fill="#000" stroke="#000" stroke-width="0.5">RT-VDI-0°</text>
<text x="1821" y="311.3" font-size="75.5" fill="#000" stroke="#000" stroke-width="0.5">FEKO-0°</text>
<text x="1821" y="412.5" font-size="75.5" fill="#000" stroke="#000" stroke-width="0.5">RT-VDI-1°</text>
<text x="1821" y="510.4" font-size="75.5" fill="#000" stroke="#000" stroke-width="0.5">FEKO-1°</text>
<text x="1821" y="612.8" font-size="75.5" fill="#000" stroke="#000" stroke-width="0.5">RT-VDI-2°</text>
<text x="1821" y="709.8" font-size="75.5" fill="#000" stroke="#000" stroke-width="0.5">FEKO-2°</text>
<text x="293.0" y="1624" font-size="84" text-anchor="middle" fill="#2c2c2c">-10</text>
<text x="778.6" y="1624" font-size="84" text-anchor="middle" fill="#2c2c2c">0</text>
<text x="1258.2" y="1624" font-size="84" text-anchor="middle" fill="#2c2c2c">10</text>
<text x="1737.9" y="1624" font-size="84" text-anchor="middle" fill="#2c2c2c">20</text>
<text x="2217.5" y="1624" font-size="84" text-anchor="middle" fill="#2c2c2c">30</text>
<text x="268" y="1542.5" font-size="84" text-anchor="end" fill="#2c2c2c">0</text>
<text x="268" y="1251.8" font-size="84" text-anchor="end" fill="#2c2c2c">0.2</text>
<text x="268" y="961.0" font-size="84" text-anchor="end" fill="#2c2c2c">0.4</text>
<text x="268" y="670.3" font-size="84" text-anchor="end" fill="#2c2c2c">0.6</text>
<text x="268" y="379.5" font-size="84" text-anchor="end" fill="#2c2c2c">0.8</text>
<text x="268" y="88.8" font-size="84" text-anchor="end" fill="#2c2c2c">1</text>
<text x="1141.5" y="1752" font-size="90" letter-spacing="2.6" fill="#2c2c2c">x/mm</text>
<g transform="translate(101.5,1100.5) rotate(-90)" fill="#474747">
<text class="ser" x="0" y="0" font-size="95">Normalized</text>
<text class="ser" x="482" y="0" font-size="95" fill="#9a9a9a">|</text>
<text class="ser" x="503" y="0" font-size="102" font-style="italic">E</text>
<text class="ser" x="572" y="14" font-size="66" font-style="italic">Q</text>
<text class="ser" x="628" y="0" font-size="95" fill="#9a9a9a">|</text>
</g></g>
</svg></body></html>
